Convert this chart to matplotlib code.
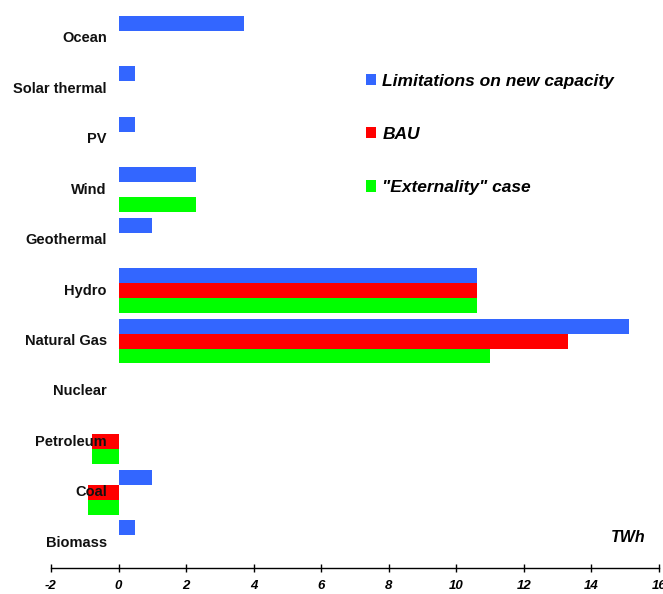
import numpy as np
import matplotlib.pyplot as plt
from matplotlib.patches import Patch

plt.rcParams['font.family'] = ['Liberation Sans', 'DejaVu Sans']

# Technologies, top to bottom
categories = ['Ocean', 'Solar thermal', 'PV', 'Wind', 'Geothermal', 'Hydro',
              'Natural Gas', 'Nuclear', 'Petroleum', 'Coal', 'Biomass']

# TWh per scenario (0 = no bar)
limitations = [3.7, 0.5, 0.5, 2.3, 1.0, 10.6, 15.1, 0, 0, 1.0, 0.5]
bau         = [0, 0, 0, 0, 0, 10.6, 13.3, 0, -0.8, -0.9, 0]
externality = [0, 0, 0, 2.3, 0, 10.6, 11.0, 0, -0.8, -0.9, 0]

series_names = ['Limitations on new capacity', 'BAU', '"Externality" case']
colors = ['#3366FF', '#FF0000', '#00FF00']
x_ticks = [-2, 0, 2, 4, 6, 8, 10, 12, 14, 16]

fig = plt.figure(figsize=(6.63, 5.94), dpi=100)
ax = fig.add_axes([0.0769, 0.0438, 0.917, 0.934])

y = np.arange(len(categories))
h = 0.297
for k, (vals, col) in enumerate(zip([limitations, bau, externality], colors)):
    ax.barh(y + (k - 1) * h, vals, height=h, color=col, linewidth=0, zorder=2)

for i, name in enumerate(categories):
    ax.text(-0.35, i, name, ha='right', va='center', fontsize=10.5,
            fontweight='bold', color='#111111', zorder=5)

ax.set_xlim(-2, 16)
ax.set_ylim(len(categories) - 0.5, -0.5)
ax.set_xticks(x_ticks)
ax.set_xticklabels([str(t) for t in x_ticks], fontsize=9.5,
                   fontweight='bold', fontstyle='italic')
ax.set_yticks([])
ax.tick_params(axis='x', direction='inout', length=6, width=1, pad=6)
for s in ['top', 'right', 'left']:
    ax.spines[s].set_visible(False)
ax.spines['bottom'].set_linewidth(1)

ax.text(645 / 663, 1 - 538 / 594, 'TWh', transform=fig.transFigure, ha='right',
        va='center', fontsize=11.5, fontweight='bold', fontstyle='italic')

handles = [Patch(facecolor=c, edgecolor='none') for c in colors]
leg = ax.legend(handles, series_names, loc='upper left',
                bbox_to_anchor=(350 / 663, 1 - 58 / 594), bbox_transform=fig.transFigure,
                frameon=False, handlelength=0.62, handleheight=0.62,
                handletextpad=0.35, labelspacing=2.2,
                prop={'size': 12.5, 'weight': 'bold', 'style': 'italic'})

fig.savefig('out.png', dpi=100, facecolor='white')
